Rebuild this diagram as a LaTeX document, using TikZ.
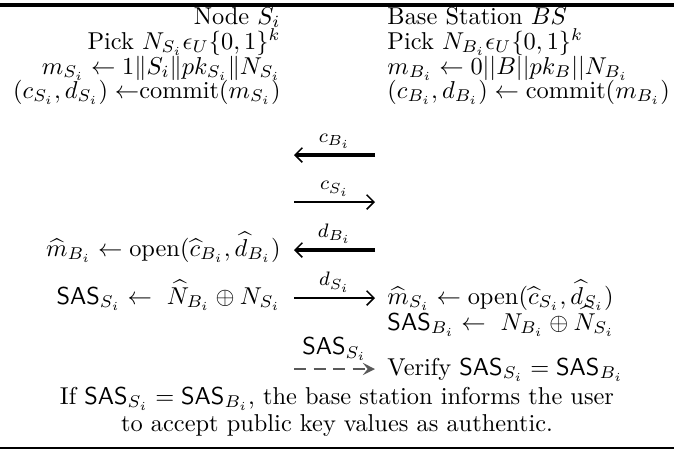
\documentclass[tikz,border=0pt]{standalone}
\usetikzlibrary{arrows.meta}
\begin{document}
\begin{tikzpicture}[x=0.41pt,y=-0.41pt,
  lft/.style={anchor=base east, inner sep=0pt},
  rgt/.style={anchor=base west, inner sep=0pt},
  ctr/.style={anchor=base, inner sep=0pt},
  lab/.style={font=\footnotesize, inner sep=0pt, above=2pt},
  msgL/.style={line width=1.3pt, -{Straight Barb[length=3pt,width=6pt,line width=0.6pt]}},
  msgR/.style={line width=0.8pt, -{Straight Barb[length=3pt,width=6pt,line width=0.6pt]}},
  msgD/.style={line width=0.6pt, black!65, dash pattern=on 5pt off 3pt, -{Stealth[length=5pt,width=5pt,inset=2pt]}},
  toprulestyle/.style={line width=1.5pt},
  botrulestyle/.style={line width=0.6pt}]
\useasboundingbox (0,0) rectangle (674,461);
% rules
\coordinate (tl) at (0,5); \coordinate (tr) at (674,5);
\draw[toprulestyle] (tl) -- (tr);
\coordinate (bl) at (0,448); \coordinate (br) at (674,448);
\draw[botrulestyle] (bl) -- (br);
% left column
\node[lft] (l1) at (281,24) {Node $S_i$};
\node[lft] (l2) at (281,49) {Pick $N_{S_i} \epsilon_U \{0,1\}^k$};
\node[lft] (l3) at (281,74) {$m_{S_i} \leftarrow 1\|S_i\|pk_{S_i}\|N_{S_i}$};
\node[lft] (l4) at (281,98) {$(c_{S_i},d_{S_i}) \leftarrow$commit$(m_{S_i})$};
% right column
\node[rgt] (r1) at (387,24) {Base Station $BS$};
\node[rgt] (r2) at (387,49) {Pick $N_{B_i} \epsilon_U \{0,1\}^k$};
\node[rgt] (r3) at (387,74) {$m_{B_i} \leftarrow 0||B||pk_B||N_{B_i}$};
\node[rgt] (r4) at (387,98) {$(c_{B_i},d_{B_i}) \leftarrow \mathrm{commit}(m_{B_i})$};
% messages
\coordinate (a1l) at (294,155); \coordinate (a1r) at (375,155);
\draw[msgL] (a1r) -- (a1l) node[midway,lab] {$c_{B_i}$};
\coordinate (a2l) at (294,202); \coordinate (a2r) at (375,202);
\draw[msgR] (a2l) -- (a2r) node[midway,lab] {$c_{S_i}$};
\coordinate (a3l) at (294,250); \coordinate (a3r) at (375,250);
\draw[msgL] (a3r) -- (a3l) node[midway,lab] {$d_{B_i}$};
\coordinate (a4l) at (294,298); \coordinate (a4r) at (375,298);
\draw[msgR] (a4l) -- (a4r) node[midway,lab] {$d_{S_i}$};
\node[lft] (l5) at (281,256) {$\widehat{m}_{B_i} \leftarrow \mathrm{open}(\widehat{c}_{B_i},\widehat{d}_{B_i})$};
\node[lft] (l6) at (281,304) {$\mathsf{SAS}_{S_i} \leftarrow\ \widehat{N}_{B_i} \oplus N_{S_i}$};
\node[rgt] (r5) at (387,304) {$\widehat{m}_{S_i} \leftarrow \mathrm{open}(\widehat{c}_{S_i},\widehat{d}_{S_i})$};
\node[rgt] (r6) at (387,330) {$\mathsf{SAS}_{B_i} \leftarrow\ N_{B_i} \oplus \widehat{N}_{S_i}$};
% dashed
\coordinate (a5l) at (294,369); \coordinate (a5r) at (375,369);
\draw[msgD] (a5l) -- (a5r) node[midway, above=3pt, inner sep=0pt, text=black] {$\mathsf{SAS}_{S_i}$};
\node[rgt] (r7) at (387,375) {Verify $\mathsf{SAS}_{S_i} = \mathsf{SAS}_{B_i}$};
% footer
\node[ctr] (f1) at (337,404) {If $\mathsf{SAS}_{S_i} = \mathsf{SAS}_{B_i}$, the base station informs the user};
\node[ctr] (f2) at (337,431) {to accept public key values as authentic.};
\end{tikzpicture}
\end{document}
